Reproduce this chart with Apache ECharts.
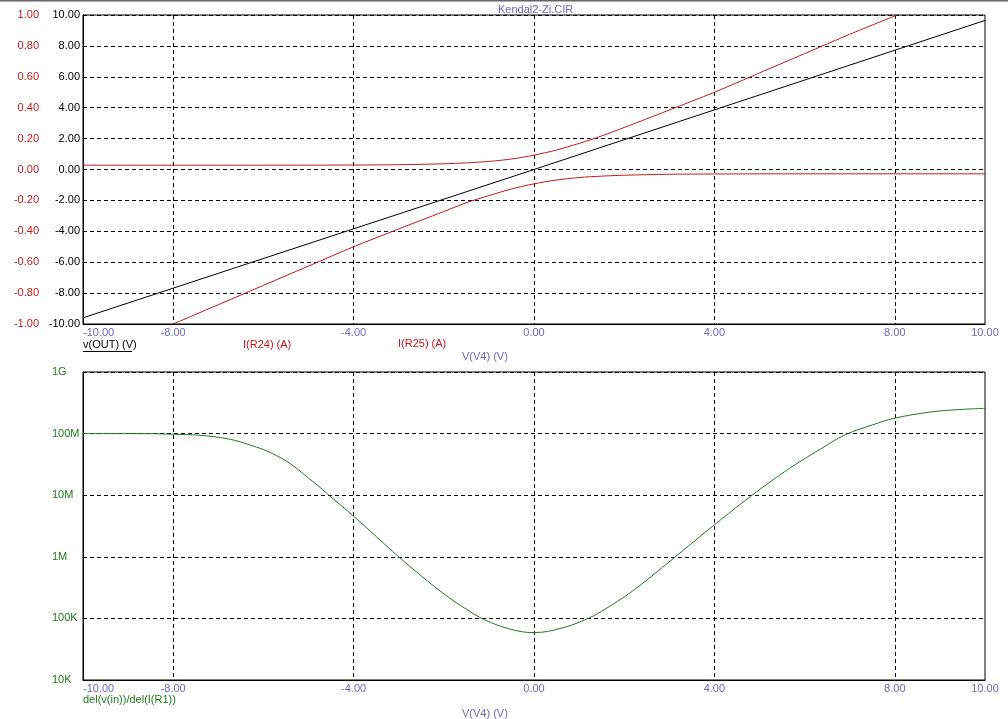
<!DOCTYPE html>
<html><head><meta charset="utf-8">
<script src="https://cdn.jsdelivr.net/npm/echarts@6/dist/echarts.min.js"></script>
<style>html,body{margin:0;padding:0;background:#fff}#c{width:1008px;height:719px}</style>
</head><body><div id="c"></div>
<script>
// ---- data ----
const xTickLabels = [-10, -8, -4, 0, 4, 8, 10];
const xGridValues = [-8, -4, 0, 4, 8];
const logTickLabels = {1e4: '10K', 1e5: '100K', 1e6: '1M', 1e7: '10M', 1e8: '100M', 1e9: '1G'};

const vOutX = [-10, 0, 10];
const vOutY = [-9.6, 0, 9.65];

const iR24X = [-10, -6, -4, -3, -2, -1.5, -1, -0.5, 0, 0.5, 1, 1.5, 2, 2.5, 3, 4, 5, 6, 7, 8.05];
const iR24Y = [0.028, 0.028, 0.029, 0.031, 0.037, 0.043, 0.052, 0.068, 0.093, 0.126, 0.169, 0.217, 0.272, 0.328, 0.385, 0.5, 0.625, 0.75, 0.875, 1.0];

const iR25X = [-8.0, -7, -6, -5, -4, -3, -2.5, -2, -1.5, -1, -0.5, 0, 0.5, 1, 1.5, 2, 3, 4, 6, 10];
const iR25Y = [-1.0, -0.875, -0.75, -0.625, -0.5, -0.385, -0.328, -0.272, -0.215, -0.169, -0.126, -0.093, -0.068, -0.052, -0.043, -0.037, -0.031, -0.029, -0.028, -0.028];

const ziX = [-10, -9, -8, -7.1, -6.4, -5.6, -4.9, -4.5, -4, -3.5, -3, -2.5, -2, -1.5, -1.1, -0.5, 0, 0.6, 1.2, 1.6, 2.1, 2.6, 3.1, 3.5, 4, 4.8, 5.3, 5.8, 6.4, 6.9, 7.5, 8, 8.8, 9.4, 10];
const ziY = [1.0e8, 1.0e8, 9.77e7, 8.91e7, 6.92e7, 3.98e7, 1.66e7, 9.33e6, 4.57e6, 2.14e6, 1.0e6, 4.9e5, 2.51e5, 1.41e5, 9.55e4, 6.61e4, 5.89e4, 6.92e4, 1.0e5, 1.45e5, 2.51e5, 4.79e5, 9.55e5, 1.66e6, 3.31e6, 9.55e6, 1.78e7, 3.16e7, 5.89e7, 9.55e7, 1.38e8, 1.78e8, 2.24e8, 2.45e8, 2.57e8];

// ---- styles ----
const FONT = "'Liberation Sans', Arial, sans-serif";
const BLUE = '#6a6ac2';
const RED = '#c41a1a';
const GREEN = '#1f7a1f';
const dashed = {show: true, lineStyle: {color: '#000', type: [4, 3], width: 1}};
const zip = (xs, ys) => xs.map((x, i) => [x, ys[i]]);

function xAxisCfg(gi) {
  return {
    type: 'value', gridIndex: gi, min: -10, max: 10,
    axisLine: {show: true, onZero: false, lineStyle: {color: '#000', width: 1}},
    axisTick: {show: false, customValues: xGridValues},
    splitLine: dashed,
    axisLabel: {customValues: xTickLabels, color: BLUE, fontFamily: FONT, fontSize: 11, margin: 3,
      alignMinLabel: 'left', formatter: v => v.toFixed(2)}
  };
}

const chart = echarts.init(document.getElementById('c'), null, {renderer: 'canvas'});
chart.setOption({
  animation: false,
  backgroundColor: '#fff',
  grid: [
    {left: 83, right: 23, top: 15, height: 309, show: true, borderColor: '#000', borderWidth: 1},
    {left: 83, right: 23, top: 372, height: 308, show: true, borderColor: '#000', borderWidth: 1}
  ],
  xAxis: [xAxisCfg(0), xAxisCfg(1)],
  yAxis: [
    {type: 'value', gridIndex: 0, min: -10, max: 10, interval: 2,
      axisLine: {show: true, onZero: false, lineStyle: {color: '#000'}}, axisTick: {show: false},
      splitLine: dashed,
      axisLabel: {color: '#000', fontFamily: FONT, fontSize: 11, margin: 3, formatter: v => v.toFixed(2)}},
    {type: 'value', gridIndex: 0, min: -1, max: 1, interval: 0.2, position: 'left',
      axisLine: {show: false}, axisTick: {show: false}, splitLine: {show: false},
      axisLabel: {color: RED, fontFamily: FONT, fontSize: 11, margin: 44, formatter: v => v.toFixed(2)}},
    {type: 'log', gridIndex: 1, min: 1e4, max: 1e9, logBase: 10,
      axisLine: {show: true, onZero: false, lineStyle: {color: '#000'}}, axisTick: {show: false},
      splitLine: dashed, minorSplitLine: {show: false},
      axisLabel: {color: GREEN, fontFamily: FONT, fontSize: 11, margin: 31, align: 'left',
        formatter: v => logTickLabels[Math.round(v)] || ''}}
  ],
  series: [
    {name: 'v(OUT) (V)', type: 'line', xAxisIndex: 0, yAxisIndex: 0, data: zip(vOutX, vOutY),
      showSymbol: false, lineStyle: {color: '#000', width: 1}},
    {name: 'I(R24) (A)', type: 'line', xAxisIndex: 0, yAxisIndex: 1, data: zip(iR24X, iR24Y),
      smooth: 0.3, showSymbol: false, lineStyle: {color: RED, width: 1}},
    {name: 'I(R25) (A)', type: 'line', xAxisIndex: 0, yAxisIndex: 1, data: zip(iR25X, iR25Y),
      smooth: 0.3, showSymbol: false, lineStyle: {color: RED, width: 1}},
    {name: 'del(v(in))/del(I(R1))', type: 'line', xAxisIndex: 1, yAxisIndex: 2, data: zip(ziX, ziY),
      smooth: 0.4, showSymbol: false, lineStyle: {color: GREEN, width: 1}}
  ],
  graphic: [
    {type: 'line', shape: {x1: 0, y1: 0.5, x2: 1008, y2: 0.5}, style: {stroke: '#666', lineWidth: 2}},
    {type: 'text', left: 498, top: 4, style: {text: 'Kendal2-Zi.CIR', fill: BLUE, font: '11px ' + FONT}},
    {type: 'text', left: 83, top: 339, style: {text: 'v(OUT) (V)', fill: '#000', font: '11px ' + FONT}},
    {type: 'line', shape: {x1: 83, y1: 351.5, x2: 132, y2: 351.5}, style: {stroke: '#000', lineWidth: 1}},
    {type: 'text', left: 243, top: 339, style: {text: 'I(R24) (A)', fill: RED, font: '11px ' + FONT}},
    {type: 'text', left: 398, top: 338, style: {text: 'I(R25) (A)', fill: RED, font: '11px ' + FONT}},
    {type: 'text', left: 462, top: 351, style: {text: 'V(V4) (V)', fill: BLUE, font: '11px ' + FONT}},
    {type: 'text', left: 83, top: 694, style: {text: 'del(v(in))/del(I(R1))', fill: GREEN, font: '11px ' + FONT}},
    {type: 'text', left: 462, top: 708, style: {text: 'V(V4) (V)', fill: BLUE, font: '11px ' + FONT}}
  ]
});
</script>
</body></html>
